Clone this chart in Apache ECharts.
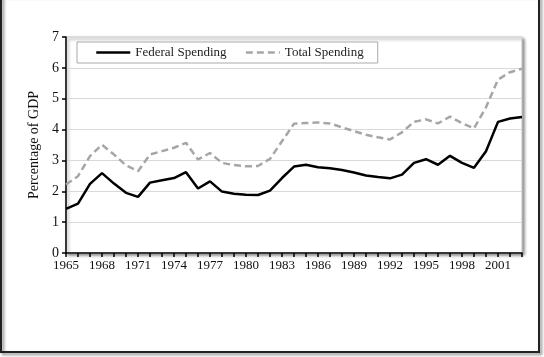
<!DOCTYPE html>
<html><head><meta charset="utf-8">
<script src="https://cdn.jsdelivr.net/npm/echarts@6/dist/echarts.min.js"></script>
<style>html,body{margin:0;padding:0;background:#fff;}#c{width:544px;height:357px;}</style>
</head><body><div id="c"></div>
<script>
var years = [];
for (var y = 1965; y <= 2003; y++) years.push(String(y));
var federalSpending = [1.43,1.60,2.24,2.59,2.25,1.95,1.82,2.28,2.36,2.43,2.62,2.09,2.32,1.99,1.92,1.89,1.88,2.02,2.43,2.80,2.86,2.78,2.75,2.69,2.61,2.51,2.46,2.42,2.54,2.92,3.04,2.86,3.15,2.92,2.76,3.30,4.25,4.36,4.41];
var totalSpending = [2.22,2.49,3.14,3.51,3.19,2.84,2.65,3.19,3.30,3.41,3.57,3.03,3.24,2.92,2.85,2.81,2.82,3.05,3.62,4.19,4.21,4.23,4.20,4.07,3.95,3.83,3.75,3.68,3.91,4.25,4.33,4.20,4.42,4.21,4.04,4.72,5.62,5.86,5.97];
var yTicks = [0,1,2,3,4,5,6,7];
var labelEvery = 3;

var font = '"Liberation Serif", "DejaVu Serif", serif';
var chart = echarts.init(document.getElementById('c'), null, {renderer:'canvas'});
chart.setOption({
  animation: false,
  backgroundColor: '#fff',
  graphic: [
    {type:'rect', shape:{x:1, y:-5, width:538, height:357}, style:{fill:'none', stroke:'#222', lineWidth:2, shadowBlur:3, shadowColor:'rgba(0,0,0,0.5)', shadowOffsetX:2, shadowOffsetY:2}, z:-1}
  ],
  grid: {left:66, right:22, top:37, bottom:104, show:true, borderColor:'#c8c8c8', borderWidth:1, backgroundColor:'#fff', shadowBlur:3, shadowColor:'rgba(0,0,0,0.45)', shadowOffsetX:2, shadowOffsetY:2},
  legend: {
    orient: 'horizontal',
    left: 77, top: 42,
    padding: [4, 14, 4, 18],
    itemGap: 18,
    itemWidth: 34, itemHeight: 14,
    borderColor: '#aaa', borderWidth: 1, backgroundColor: '#fff',
    itemStyle: {opacity: 0},
    lineStyle: {width: 2.5},
    textStyle: {fontFamily: font, fontSize: 13, color:'#222'},
    data: ['Federal Spending', 'Total Spending']
  },
  xAxis: {
    type: 'category', data: years, boundaryGap: false,
    axisLine: {show:true, lineStyle:{color:'#000', width:1.5}},
    axisTick: {show:true, interval:0, length:4, inside:false, lineStyle:{color:'#000', width:1.5}},
    axisLabel: {interval: function(i){return i % labelEvery === 0;}, fontFamily: font, fontSize: 13, color:'#111', margin: 6},
    splitLine: {show:false}
  },
  yAxis: {
    type: 'value', min: yTicks[0], max: yTicks[yTicks.length-1], interval: 1,
    name: 'Percentage of GDP', nameLocation: 'middle', nameGap: 25,
    nameTextStyle: {fontFamily: font, fontSize: 14, color:'#111'},
    axisLine: {show:true, lineStyle:{color:'#000', width:1.5}},
    axisTick: {show:true, length:4, lineStyle:{color:'#000', width:1.5}},
    axisLabel: {fontFamily: font, fontSize: 14, color:'#111', margin: 7},
    splitLine: {show:true, lineStyle:{color:'#d9d9d9', width:1}}
  },
  series: [
    {name:'Federal Spending', type:'line', data: federalSpending, symbol:'none',
     lineStyle:{color:'#000', width:2.5}, itemStyle:{color:'#000'}},
    {name:'Total Spending', type:'line', data: totalSpending, symbol:'none',
     lineStyle:{color:'#a6a6a6', width:2.5, type:[7,4]}, itemStyle:{color:'#a6a6a6'}}
  ]
});
</script></body></html>
